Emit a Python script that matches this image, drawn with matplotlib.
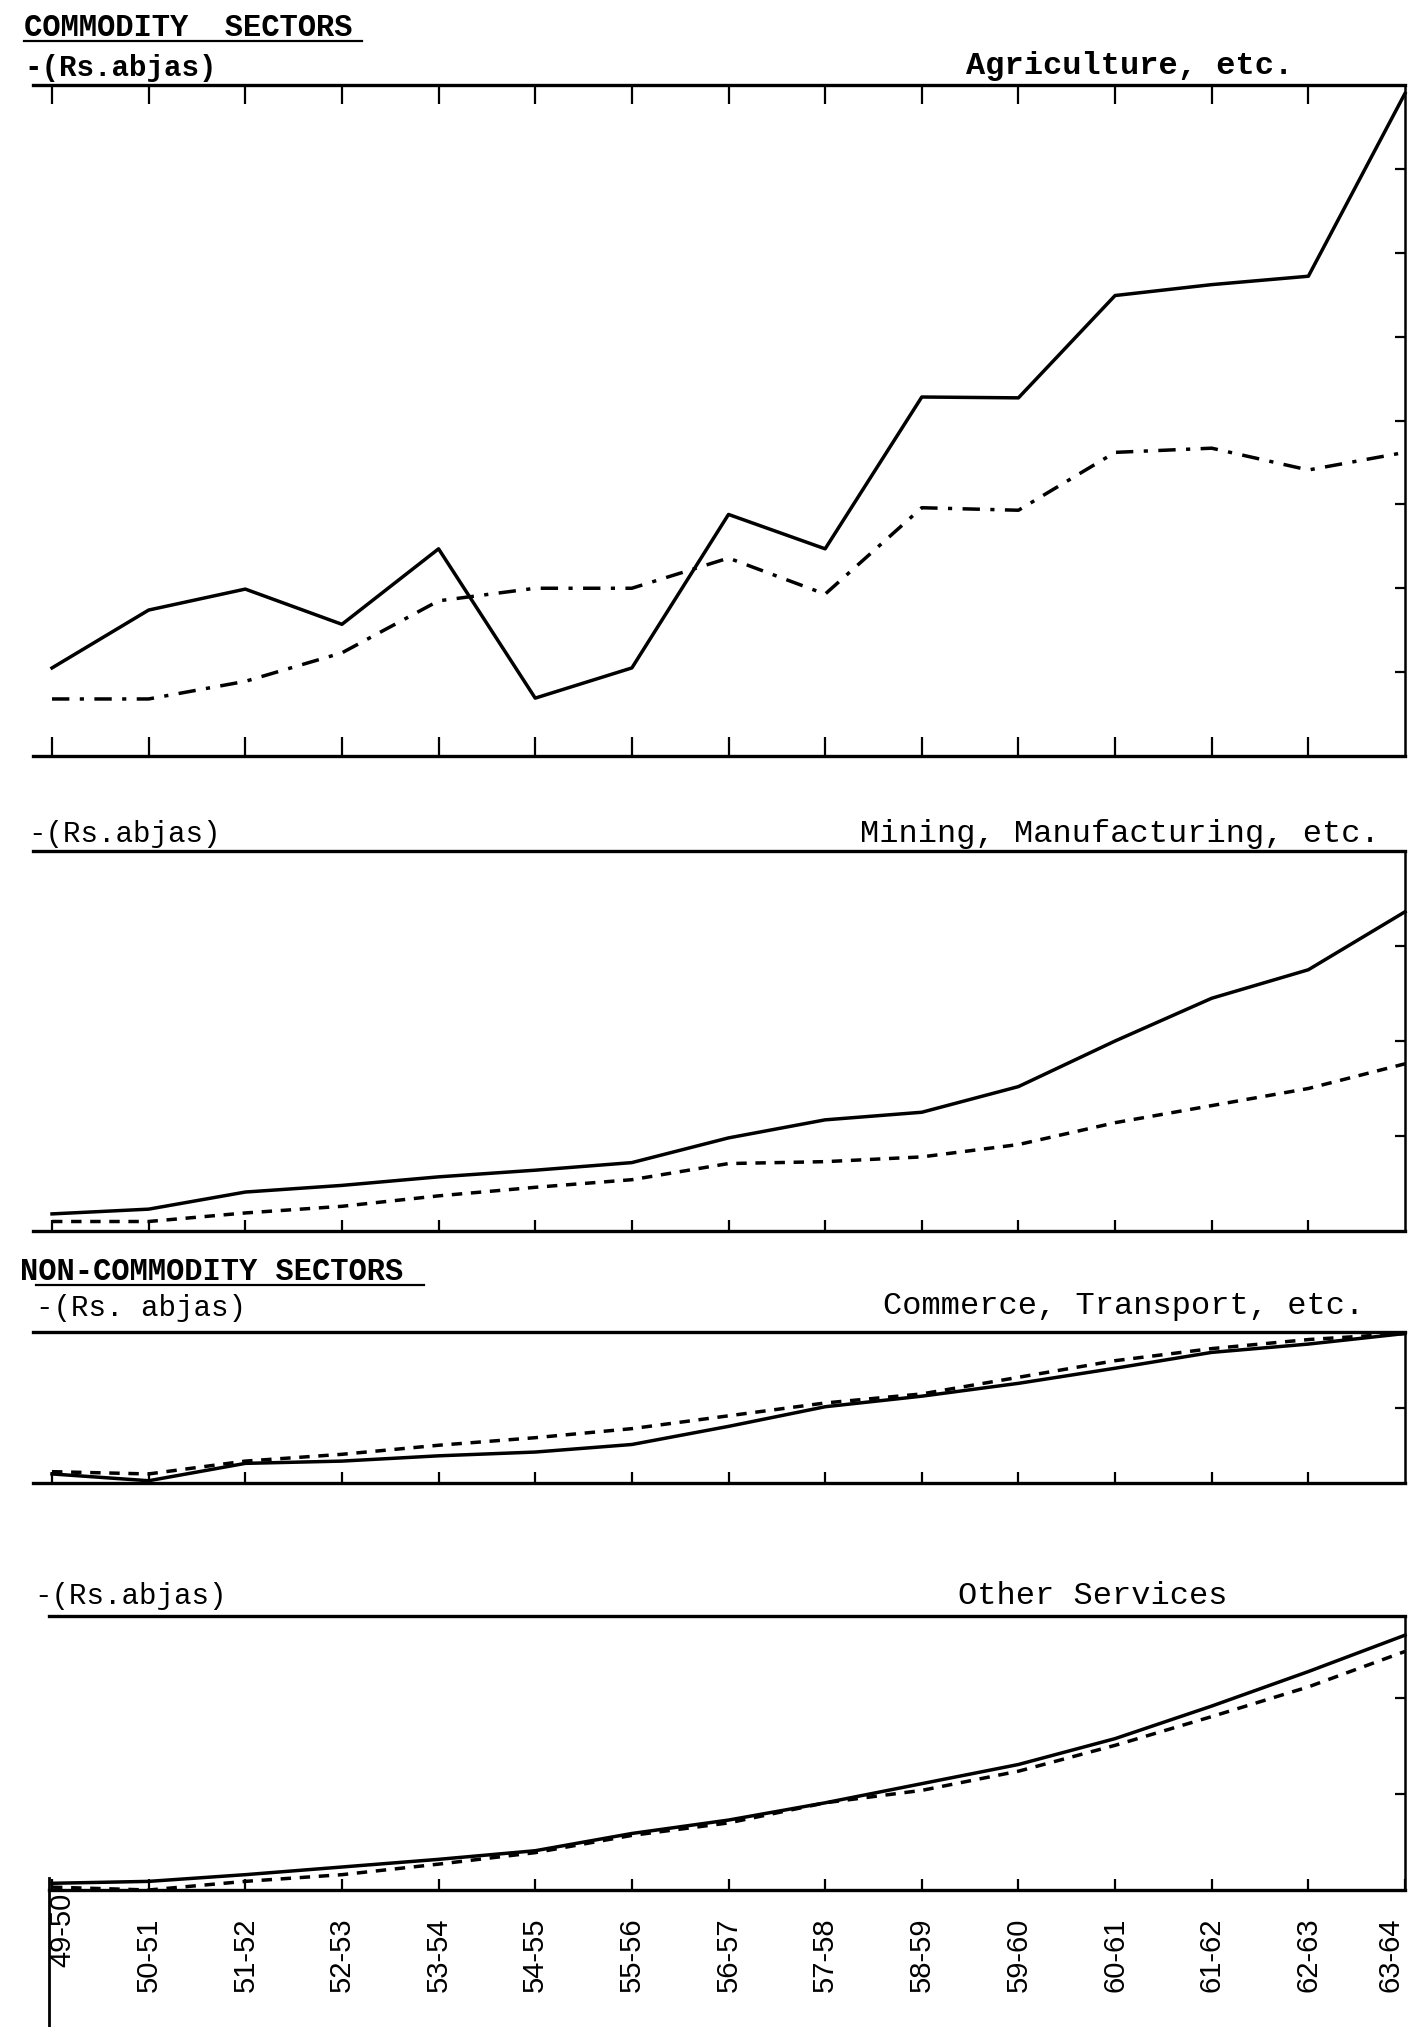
import matplotlib
matplotlib.use("Agg")
import matplotlib.pyplot as plt
import matplotlib.transforms as mtransforms
import numpy as np

# ---------------- data (values in tick-interval units) ----------------
years = ["49-50", "50-51", "51-52", "52-53", "53-54", "54-55", "55-56", "56-57",
         "57-58", "58-59", "59-60", "60-61", "61-62", "62-63", "63-64"]

agri_solid = [1.05, 1.74, 1.99, 1.57, 2.47, 0.69, 1.05, 2.88, 2.47, 4.28, 4.27, 5.49, 5.62, 5.72, 7.90]
agri_dash = [0.68, 0.68, 0.89, 1.23, 1.85, 2.00, 2.00, 2.36, 1.93, 2.96, 2.93, 3.62, 3.67, 3.41, 3.62]

mining_solid = [0.18, 0.23, 0.41, 0.48, 0.57, 0.64, 0.72, 0.98, 1.17, 1.25, 1.52, 2.00, 2.45, 2.75, 3.36]
mining_dash = [0.10, 0.10, 0.19, 0.26, 0.37, 0.46, 0.54, 0.71, 0.73, 0.78, 0.91, 1.14, 1.32, 1.50, 1.76]

commerce_solid = [0.12, 0.03, 0.26, 0.29, 0.36, 0.41, 0.51, 0.75, 1.01, 1.15, 1.32, 1.52, 1.73, 1.84, 1.98]
commerce_dash = [0.15, 0.12, 0.29, 0.38, 0.50, 0.60, 0.72, 0.89, 1.06, 1.18, 1.40, 1.62, 1.78, 1.90, 1.98]

other_solid = [0.07, 0.09, 0.16, 0.24, 0.32, 0.41, 0.59, 0.73, 0.91, 1.11, 1.31, 1.58, 1.92, 2.28, 2.66]
other_dash = [0.03, 0.00, 0.09, 0.16, 0.27, 0.39, 0.57, 0.70, 0.91, 1.04, 1.24, 1.51, 1.81, 2.12, 2.49]

panel_titles = ["Agriculture, etc.", "Mining, Manufacturing, etc.",
                "Commerce, Transport, etc.", "Other Services"]
unit_labels = ["-(Rs.abjas)", "-(Rs.abjas)", "-(Rs. abjas)", "-(Rs.abjas)"]
header_top = "COMMODITY  SECTORS"
header_mid = "NON-COMMODITY SECTORS"

# ---------------- layout ----------------
W, H = 1408, 2027
DPI = 100
fig = plt.figure(figsize=(W / DPI, H / DPI), dpi=DPI)
fig.patch.set_facecolor("white")

X0 = 52.0                  # pixel of first category
DX = (1405.0 - X0) / 14.0  # pixel spacing
RIGHT = 1405.0

def add_panel(top, bottom, xmin):
    left = X0 + xmin * DX
    return fig.add_axes([left / W, 1 - bottom / H, (RIGHT - left) / W, (bottom - top) / H])

panels = [
    dict(rect=(85, 756), xmin=-0.2, ylim=8.0, yt=[1, 2, 3, 4, 5, 6, 7],
         solid=agri_solid, dash=agri_dash, ls=(0, (5, 3, 1.2, 3)), toptick=True),
    dict(rect=(851, 1231), xmin=-0.2, ylim=4.0, yt=[1, 2, 3],
         solid=mining_solid, dash=mining_dash, ls=(0, (3, 2.5)), toptick=False),
    dict(rect=(1332, 1483), xmin=-0.2, ylim=2.0, yt=[1],
         solid=commerce_solid, dash=commerce_dash, ls=(0, (3, 2.5)), toptick=False),
    dict(rect=(1616, 1890), xmin=-0.03, ylim=2.86, yt=[1, 2],
         solid=other_solid, dash=other_dash, ls=(0, (3, 2.5)), toptick=False),
]

x = np.arange(len(years))
axes = []
for i, p in enumerate(panels):
    ax = add_panel(p["rect"][0], p["rect"][1], p["xmin"])
    axes.append(ax)
    ax.set_xlim(p["xmin"], 14)
    ax.set_ylim(0, p["ylim"])
    ax.plot(x, p["solid"], color="black", lw=2.5, solid_joinstyle="round", clip_on=False)
    ax.plot(x, p["dash"], color="black", lw=2.5, linestyle=p["ls"], clip_on=False)
    for s in ["top", "bottom"]:
        ax.spines[s].set_linewidth(2.4)
    ax.spines["right"].set_linewidth(1.8)
    ax.spines["left"].set_visible(False)
    ax.set_xticks(x[:14])
    ax.tick_params(axis="x", direction="in", length=14 if i == 0 else 8, width=1.6,
                   top=p["toptick"], bottom=True, labelbottom=False)
    ax.yaxis.tick_right()
    ax.set_yticks(p["yt"])
    ax.tick_params(axis="y", direction="in", length=7, width=1.6, labelright=False,
                   right=True, left=False)

# bottom category labels
ax4 = axes[3]
ax4.set_xticks(x)
ax4.set_xticklabels(years, rotation=90, fontsize=21, family=["Liberation Sans", "DejaVu Sans"])
ax4.tick_params(axis="x", labelbottom=True, pad=20)
labels = ax4.get_xticklabels()
labels[0].set_transform(labels[0].get_transform() +
                        mtransforms.ScaledTranslation(0.10, 0.25, fig.dpi_scale_trans))
labels[-1].set_transform(labels[-1].get_transform() +
                         mtransforms.ScaledTranslation(-0.15, 0, fig.dpi_scale_trans))

# partial left border of the lowest panel (as in the scan)
fig.add_artist(plt.Line2D([49 / W, 49 / W], [1 - 1878 / H, 0.0], color="black", lw=2.0))

mono = ["Liberation Mono", "DejaVu Sans Mono"]

def ftext(xp, yp, s, ha="left", size=22, weight="normal"):
    fig.text(xp / W, 1 - yp / H, s, ha=ha, va="baseline", fontsize=size,
             family=mono, weight=weight, color="black")

# headers with underline
ftext(24, 36, header_top, size=22, weight="bold")
fig.add_artist(plt.Line2D([24 / W, 362 / W], [1 - 41 / H, 1 - 41 / H], color="black", lw=1.6))
ftext(20, 1280, header_mid, size=22, weight="bold")
fig.add_artist(plt.Line2D([36 / W, 424 / W], [1 - 1285 / H, 1 - 1285 / H], color="black", lw=1.6))

# unit labels and panel titles
unit_pos = [(24, 76), (28, 842), (36, 1316), (34, 1604)]
title_pos = [(1293, 74), (1380, 842), (1364, 1314), (1228, 1604)]
for i in range(4):
    ftext(unit_pos[i][0], unit_pos[i][1], unit_labels[i], size=21, weight="bold" if i == 0 else "normal")
    ftext(title_pos[i][0], title_pos[i][1], panel_titles[i], ha="right", size=23,
          weight="bold" if i == 0 else "normal")

fig.savefig("out.png", dpi=DPI, facecolor="white")
